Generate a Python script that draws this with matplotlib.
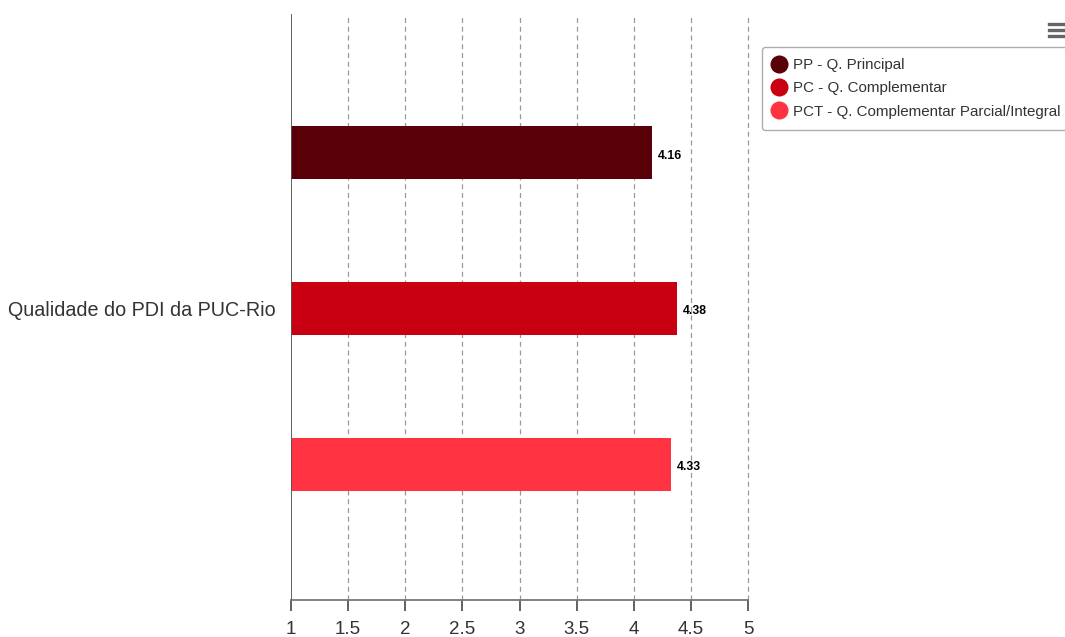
import matplotlib
matplotlib.use("Agg")
import matplotlib.pyplot as plt
from matplotlib.lines import Line2D

plt.rcParams['font.family'] = ['Liberation Sans', 'DejaVu Sans']

category = "Qualidade do PDI da PUC-Rio"
series_names = ["PP - Q. Principal", "PC - Q. Complementar", "PCT - Q. Complementar Parcial/Integral"]
values = [4.16, 4.38, 4.33]
colors = ["#5a0008", "#c80012", "#ff3341"]
xticks = [1, 1.5, 2, 2.5, 3, 3.5, 4, 4.5, 5]
xtick_labels = ["1", "1.5", "2", "2.5", "3", "3.5", "4", "4.5", "5"]

W, H = 1065, 637
fig = plt.figure(figsize=(W/100, H/100), dpi=100)
ax = fig.add_axes([291/W, 1-600/H, (748-291)/W, (600-14)/H])

positions = [0, 1, 2]
for pos, v, c in zip(positions, values, colors):
    ax.barh(pos, v - 1, left=1, height=0.34, color=c, zorder=3)
    ax.text(v + 0.05, pos + 0.02, f"{v:.2f}", va='center', ha='left', fontsize=8.8,
            fontweight='bold', color='black', zorder=4)

ax.set_xlim(1, 5)
ax.set_ylim(2.872, -0.888)
ax.set_xticks(xticks)
ax.set_xticklabels(xtick_labels, fontsize=13.5, color='#333333')
ax.set_yticks([1])
ax.set_yticklabels([category], fontsize=14.2, color='#333333')
ax.tick_params(axis='y', length=0, pad=11)
ax.tick_params(axis='x', length=8, width=1.3, color='#555555', pad=7, direction='out')

for x in xticks[1:]:
    ax.axvline(x, color='#999999', linestyle=(0, (4, 3)), linewidth=0.9, zorder=1, clip_on=False)
ax.axvline(1, color='#555555', linewidth=1.3, zorder=5)

for s in ['top', 'right', 'left']:
    ax.spines[s].set_visible(False)
ax.spines['bottom'].set_color('#777777')
ax.spines['bottom'].set_linewidth(1.3)

handles = [Line2D([0], [0], marker='o', color='w', markerfacecolor=c, markersize=13, markeredgewidth=0)
           for c in colors]
leg = fig.legend(handles, series_names, loc='upper left', bbox_to_anchor=(762/W, 1-47/H),
                 fontsize=10.9, frameon=True, handlelength=0.8, handletextpad=0.5,
                 labelspacing=0.6, borderpad=0.75, borderaxespad=0, fancybox=True)
for t in leg.get_texts():
    t.set_color('#333333')
leg.get_frame().set_edgecolor('#999999')
leg.get_frame().set_linewidth(1.0)

# menu icon
for yy in [24, 30, 36]:
    fig.add_artist(Line2D([1049/W, 1064/W], [1-yy/H, 1-yy/H], color='#666666', linewidth=2.4))

fig.savefig("out.png", dpi=100)
